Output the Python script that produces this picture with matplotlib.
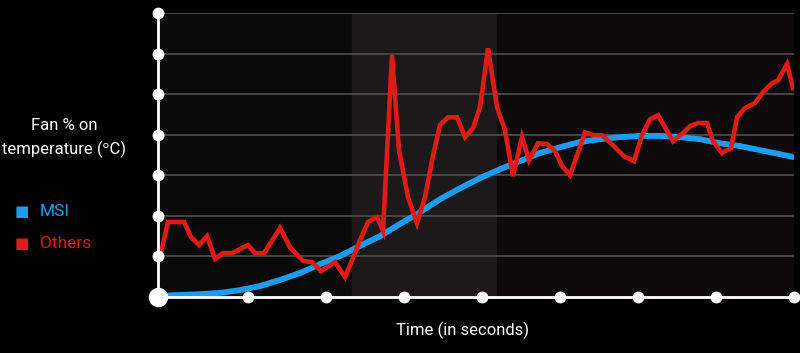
import matplotlib.pyplot as plt

# fan curve data (x in time units, y in % of scale)
others_x = [3, 10, 26, 33, 41, 49, 57, 65, 74, 90, 97, 106, 122, 132, 145, 154, 163, 177, 187, 195,
            202, 210, 219, 225, 234, 241, 250, 259, 267, 274, 282, 290, 299, 307, 315, 322, 330, 339,
            347, 355, 364, 371, 380, 389, 397, 404, 412, 427, 435, 444, 455, 466, 476, 484, 492, 500,
            515, 525, 532, 540, 549, 555, 564, 573, 579, 587, 597, 605, 614, 620, 629, 635]
others_y = [10.8, 18.5, 18.5, 14.8, 12.8, 15.0, 9.4, 10.8, 10.8, 12.8, 10.8, 10.8, 17.0, 12.3, 8.9, 8.6,
            6.4, 8.6, 4.9, 9.6, 14.0, 18.5, 19.7, 16.3, 59.6, 36.2, 24.6, 18.2, 24.6, 33.7, 42.4, 44.3,
            44.3, 39.4, 41.6, 46.8, 61.3, 46.8, 41.1, 29.8, 39.4, 33.7, 37.9, 37.7, 36.0, 32.3, 30.0,
            40.6, 39.9, 39.9, 37.4, 34.7, 33.5, 39.9, 43.8, 44.8, 38.4, 40.4, 42.1, 42.9, 42.9, 38.4,
            35.5, 36.7, 44.3, 46.6, 47.8, 50.5, 52.7, 53.4, 57.4, 51.5]

msi_x = [0, 22, 42, 62, 82, 102, 122, 142, 162, 182, 202, 222, 242, 262, 282, 302, 322, 342, 362,
         382, 402, 422, 442, 462, 482, 502, 522, 542, 562, 582, 602, 622, 635]
msi_y = [0.3, 0.5, 0.7, 1.0, 1.7, 2.7, 4.2, 5.9, 8.1, 10.1, 12.6, 15.0, 18.0, 20.9, 24.1, 26.8, 29.3,
         31.5, 33.5, 35.5, 36.9, 38.2, 38.9, 39.4, 39.7, 39.7, 39.4, 38.9, 37.9, 37.2, 36.2, 35.2, 34.5]

x_ticks = [90, 168, 246, 324, 402, 480, 558, 636]
y_ticks = [10, 20, 30, 40, 50, 60, 70]
bands = [(0, 194, '#0b0a0a'), (194, 339, '#1b1919'), (339, 636, '#0c0a0a')]

red = '#e01b13'
blue = '#1c9cee'
plt.rcParams['font.family'] = ['Roboto', 'DejaVu Sans']

fig = plt.figure(figsize=(8, 3.53), dpi=100, facecolor='black')
ax = fig.add_axes([158 / 800, 56 / 353, 636 / 800, 284 / 353])
ax.set_facecolor('black')
ax.set_xlim(0, 636)
ax.set_ylim(0, 70)

for a, b, c in bands:
    ax.axvspan(a, b, color=c, zorder=0)
for y in y_ticks:
    ax.axhline(y, color='#4b4949', lw=1.3, zorder=1)

ax.plot(msi_x, msi_y, color=blue, lw=4.2, zorder=3, solid_capstyle='round')
ax.plot(others_x, others_y, color=red, lw=3.3, zorder=4, solid_joinstyle='miter')

# axes with dots
ax.plot([0, 0], [0, 70], color='white', lw=2, zorder=5, clip_on=False)
ax.plot([0, 636], [0, 0], color='white', lw=2, zorder=5, clip_on=False)
ax.plot([0] * len(y_ticks), y_ticks, 'o', color='white', ms=7.5, zorder=6, clip_on=False)
ax.plot(x_ticks, [0] * len(x_ticks), 'o', color='white', ms=7.5, zorder=6, clip_on=False)
ax.plot([0], [0], 'o', color='white', ms=13, zorder=6, clip_on=False)

for s in ax.spines.values():
    s.set_visible(False)
ax.set_xticks([])
ax.set_yticks([])

fig.text(64 / 800, 1 - 138 / 353, 'Fan % on\ntemperature (ᵒC)', color='white', fontsize=12,
         ha='center', va='center', linespacing=1.62)
fig.text(22 / 800, 1 - 211 / 353, '■', color=blue, fontsize=11, ha='center', va='center',
         family='DejaVu Sans')
fig.text(40 / 800, 1 - 211 / 353, 'MSI', color=blue, fontsize=12.5, ha='left', va='center')
fig.text(22 / 800, 1 - 243 / 353, '■', color=red, fontsize=11, ha='center', va='center',
         family='DejaVu Sans')
fig.text(40 / 800, 1 - 243 / 353, 'Others', color=red, fontsize=12.5, ha='left', va='center')
fig.text(462 / 800, 1 - 330 / 353, 'Time (in seconds)', color='white', fontsize=12,
         ha='center', va='center')

fig.savefig('out.png', dpi=100, facecolor='black')
